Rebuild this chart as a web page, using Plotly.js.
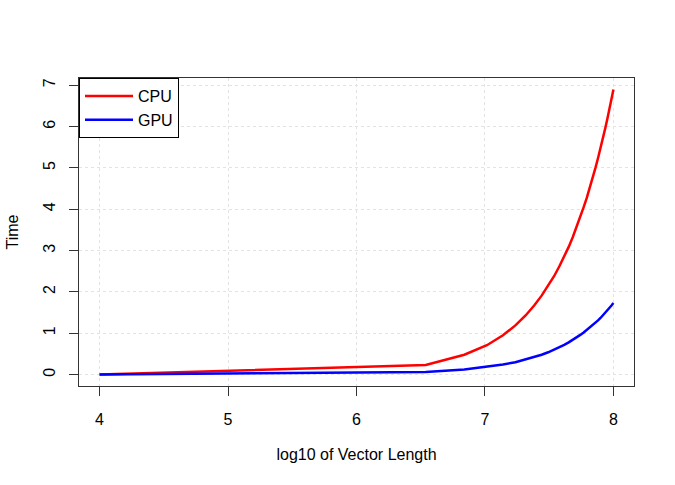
<!DOCTYPE html>
<html>
<head>
<meta charset="utf-8">
<script src="https://cdn.plot.ly/plotly-3.0.1.min.js"></script>
<style>html,body{margin:0;padding:0;background:#fff;}#chart{width:675px;height:485px;}</style>
</head>
<body>
<div id="chart"></div>
<script>
// log10 of vector length (30 lengths from 1e4 to 1e8)
const logLength = [4.0000, 6.5389, 6.8393, 7.0152, 7.1400, 7.2369, 7.3160, 7.3829, 7.4409, 7.4920,
  7.5378, 7.5792, 7.6169, 7.6517, 7.6839, 7.7138, 7.7419, 7.7682, 7.7930, 7.8165,
  7.8388, 7.8599, 7.8801, 7.8994, 7.9179, 7.9356, 7.9527, 7.9690, 7.9848, 8.0000];
const cpuTime = [0.001, 0.235, 0.48, 0.71, 0.95, 1.19, 1.43, 1.67, 1.91, 2.15,
  2.38, 2.62, 2.86, 3.09, 3.33, 3.57, 3.81, 4.05, 4.28, 4.52,
  4.76, 5.00, 5.24, 5.47, 5.71, 5.95, 6.19, 6.43, 6.66, 6.90];
const gpuTime = [0.002, 0.065, 0.125, 0.19, 0.245, 0.30, 0.37, 0.42, 0.48, 0.54,
  0.60, 0.66, 0.72, 0.78, 0.84, 0.90, 0.96, 1.02, 1.08, 1.14,
  1.20, 1.26, 1.31, 1.37, 1.43, 1.49, 1.55, 1.61, 1.67, 1.73];
const seriesNames = ["CPU", "GPU"];
const xTicks = [4, 5, 6, 7, 8];
const yTicks = [0, 1, 2, 3, 4, 5, 6, 7];

const font = "Liberation Sans, Arial, sans-serif";
const fs = 16;
const traces = [
  {x: logLength, y: cpuTime, name: seriesNames[0], type: "scatter", mode: "lines",
   line: {color: "#ff0000", width: 2.5}},
  {x: logLength, y: gpuTime, name: seriesNames[1], type: "scatter", mode: "lines",
   line: {color: "#0000ff", width: 2.5}}
];
const axisCommon = {
  showline: true, mirror: true, linecolor: "#333", linewidth: 1,
  ticks: "outside", ticklen: 9, tickcolor: "#333", tickwidth: 1,
  showgrid: true, gridcolor: "#e3e3e3", griddash: "dot", gridwidth: 1,
  zeroline: false, tickfont: {family: font, size: fs, color: "#000"}
};
const layout = {
  width: 675, height: 485,
  margin: {l: 79, r: 41, t: 78, b: 99},
  paper_bgcolor: "#fff", plot_bgcolor: "#fff",
  font: {family: font, size: fs, color: "#000"},
  showlegend: true,
  legend: {x: 0, y: 1, xanchor: "left", yanchor: "top", bordercolor: "#000", borderwidth: 1,
           bgcolor: "#fff", font: {family: font, size: fs}, itemwidth: 48, tracegroupgap: 0},
  xaxis: Object.assign({}, axisCommon, {
    range: [3.84, 8.16], tickvals: xTicks, ticktext: xTicks.map(String),
    ticklabelstandoff: 10,
    title: {text: "log10 of Vector Length", font: {family: font, size: fs}, standoff: 21}
  }),
  yaxis: Object.assign({}, axisCommon, {
    range: [-0.276, 7.176], tickvals: yTicks, ticktext: yTicks.map(String),
    tickangle: -90, ticklabelstandoff: 8,
    title: {text: "Time", font: {family: font, size: fs}, standoff: 17}
  })
};
Plotly.newPlot("chart", traces, layout, {displayModeBar: false, staticPlot: true});
</script>
</body>
</html>
